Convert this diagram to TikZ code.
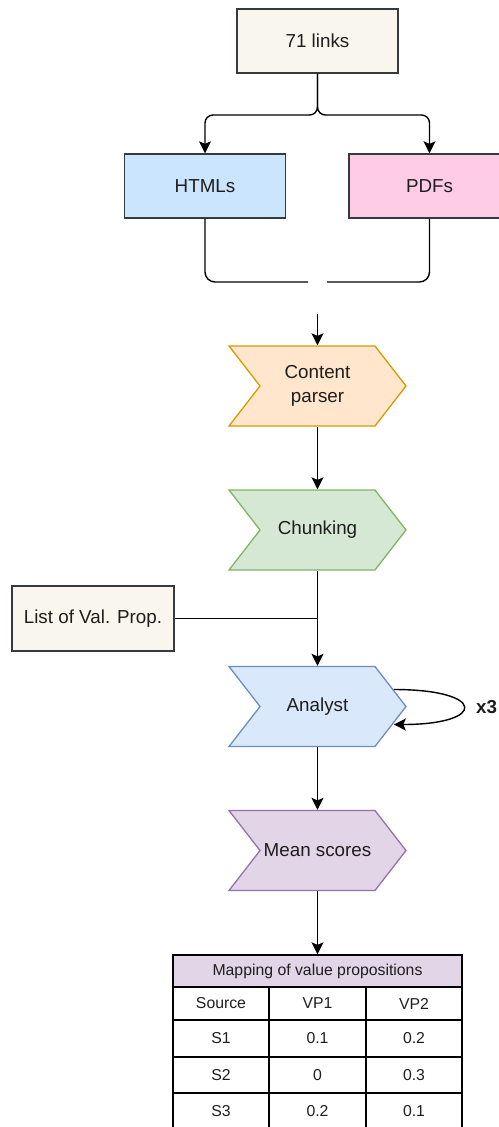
\documentclass[tikz,border=0pt]{standalone}
\usepackage{fontspec}
\setmainfont{Liberation Sans}
\usetikzlibrary{arrows.meta,shapes.symbols}

\definecolor{cream}{HTML}{F9F7ED}
\definecolor{darkline}{HTML}{36393D}
\definecolor{htmlfill}{HTML}{CCE5FF}
\definecolor{pdffill}{HTML}{FFCCE6}
\definecolor{orangefill}{HTML}{FFE6CC}
\definecolor{orangeline}{HTML}{D79B00}
\definecolor{greenfill}{HTML}{D5E8D4}
\definecolor{greenline}{HTML}{82B366}
\definecolor{bluefill}{HTML}{DAE8FC}
\definecolor{blueline}{HTML}{6C8EBF}
\definecolor{purplefill}{HTML}{E1D5E7}
\definecolor{purpleline}{HTML}{9673A6}
\definecolor{ink}{HTML}{1E1E1E}

\tikzset{
  base/.style={font=\fontsize{18.8}{24}\selectfont, text=ink, inner sep=2pt, line width=1.3pt},
  box/.style={base, draw=darkline, rectangle, minimum width=161pt, minimum height=64pt},
  chev/.style={base, shape=signal, signal from=west, signal to=east,
    signal pointer angle=104.4, minimum width=177pt, minimum height=80pt, align=center},
  conn/.style={line width=1.4pt, draw=black},
  arr/.style={conn, -{Stealth[length=12pt,width=12pt,inset=2.5pt]}},
  cell/.style={draw=black, line width=1.3pt, font=\fontsize{15.8}{18}\selectfont,
    text=ink, inner sep=1pt},
}

\begin{document}
\begin{tikzpicture}[x=1pt,y=-1pt]
\useasboundingbox (0,0) rectangle (498,1127);

% sources
\node[box, fill=cream] (links) at (317.5,41) {71 links};
\node[box, fill=htmlfill] (htmls) at (205,186) {HTMLs};
\node[box, fill=pdffill] (pdfs) at (429.5,186) {PDFs};

% processing chain
\node[chev, fill=orangefill, draw=orangeline] (parser) at (317.5,386) {Content\\parser};
\node[chev, fill=greenfill, draw=greenline] (chunk) at (317.5,530) {Chunking};
\node[chev, fill=bluefill, draw=blueline] (analyst) at (317.5,706.5) {Analyst};
\node[chev, fill=purplefill, draw=purpleline] (mean) at (317.5,850.5) {Mean scores};

\node[box, fill=cream, minimum width=162pt, minimum height=65pt] (vplist) at (93,618.5) {List of Val. Prop.};
\node[base, font=\fontsize{18.8}{22}\selectfont\bfseries] (times) at (486.5,707) {x3};

% split of the links
\draw[arr, rounded corners=8pt] (links.south) -- (links.south |- 0,115) -| (htmls.north);
\draw[arr, rounded corners=8pt] (links.south) -- (links.south |- 0,115) -| (pdfs.north);

% merge of the two source types
\coordinate (joinl) at (308,282);
\coordinate (joinr) at (327,282);
\coordinate (joinin) at (317.5,314);
\draw[conn, rounded corners=10pt] (htmls.south) |- (joinl);
\draw[conn, rounded corners=10pt] (pdfs.south) |- (joinr);
\draw[arr] (joinin) -- (parser.north);

\draw[arr] (parser.south) -- (chunk.north);
\draw[arr] (chunk.south) -- (analyst.north);
\draw[conn] (vplist.east) -- (vplist.east -| analyst.north);
\draw[arr] (analyst.south) -- (mean.north);

% three analyst passes
\draw[arr] ([shift={(-13,-17)}]analyst.east) .. controls +(93,0) and +(93,0) .. ([shift={(-13,18)}]analyst.east);

% result table
\node[cell, fill=purplefill, minimum width=289pt, minimum height=32pt] (thead) at (317.5,971) {Mapping of value propositions};
\draw[arr] (mean.south) -- (thead.north);
\foreach \r/\y/\h/\a/\b/\c in {1/1003.5/33/Source/VP1/VP2, 2/1038.5/37/S1/0.1/0.2, 3/1075/36/S2/0/0.3, 4/1111.5/37/S3/0.2/0.1} {
  \node[cell, minimum width=96pt, minimum height=\h pt] (cell\r a) at (221,\y) {\a};
  \node[cell, minimum width=97pt, minimum height=\h pt] (cell\r b) at (317.5,\y) {\b};
  \node[cell, minimum width=96pt, minimum height=\h pt] (cell\r c) at (414,\y) {\c};
}
\end{tikzpicture}
\end{document}
